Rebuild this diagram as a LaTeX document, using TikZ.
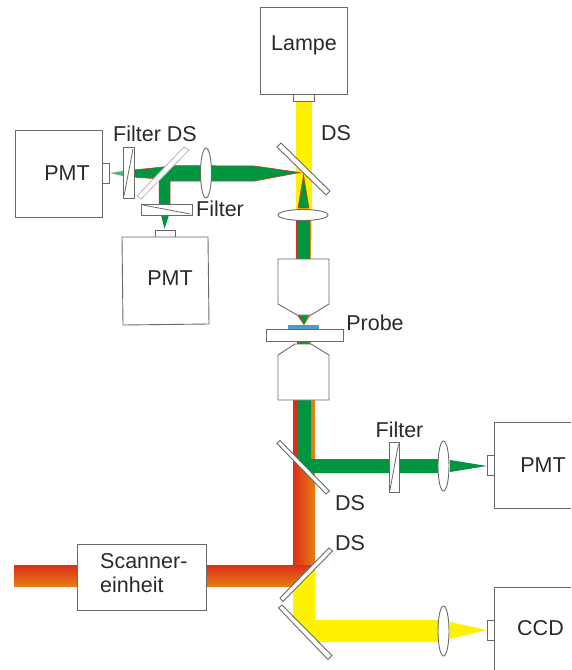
\documentclass[tikz,border=0pt]{standalone}
\usepackage{fontspec}
\setmainfont{Liberation Sans}
\definecolor{beamgreen}{HTML}{009640}
\definecolor{beamyellow}{HTML}{FFF200}
\definecolor{beamred}{HTML}{DC2E1A}
\definecolor{beamorange}{HTML}{E87D12}
\definecolor{part}{HTML}{6A6A6A}
\definecolor{ink}{HTML}{2A2A2A}
\definecolor{sampleblue}{HTML}{4F9BC8}
\tikzset{
  partbox/.style={draw=part,line width=0.9pt,fill=white,line join=miter},
  paleglass/.style={draw=black!28,line width=0.8pt,fill=white},
  greenbeam/.style={fill=beamgreen},
  yellowbeam/.style={fill=beamyellow},
  edgedbeam/.style={fill=beamgreen,draw=beamred,line width=0.5pt},
  label/.style={font=\fontsize{21.5}{24}\selectfont,text=ink,inner sep=0pt}
}
\begin{document}
\begin{tikzpicture}[x=1pt,y=-1pt]
\useasboundingbox (0,0) rectangle (571,670);
\fill[white] (0,0) rectangle (571,670);
% ---- yellow lamp beam
\fill[yellowbeam] (296,101) rectangle (312,240);
% ---- upper beams
\path[edgedbeam] (133,170) -- (177,165.5) -- (255,166) -- (300,172.5) -- (255,181) -- (170,181) -- (170,205) -- (159,205) -- (159,179) -- (133,177) -- cycle;
\fill[beamgreen!70] (123,171) -- (110,173) -- (123,176) -- cycle;
\fill[greenbeam] (161,215) -- (169,215) -- (164.5,229) -- cycle;
\path[edgedbeam] (303.5,175) -- (309,208) -- (298,208) -- cycle;
\fill[beamred] (296,220) rectangle (304,260);
\fill[beamorange] (304,220) rectangle (311,260);
\fill[greenbeam] (297.5,220) rectangle (309.5,260);
% ---- focus at the sample
\fill[beamred] (297,315) -- (304,315) -- (304,325) -- cycle;
\fill[beamorange] (304,315) -- (311,315) -- (304,325) -- cycle;
\fill[greenbeam] (299.5,315) -- (308.5,315) -- (304,325) -- cycle;
\fill[beamred] (297,341) rectangle (304,346);
\fill[beamorange] (304,341) rectangle (311,346);
\fill[greenbeam] (299.5,341) rectangle (308.5,346);
% ---- lower beams
\fill[beamred] (293,398) rectangle (299,462);
\fill[beamorange] (309,398) rectangle (315,478);
\path[left color=beamred,right color=beamorange] (293,455) -- (315,476) -- (315,568) -- (293,590) -- cycle;
\path[top color=beamred,bottom color=beamorange] (14,565) -- (317,565) -- (295,587) -- (14,587) -- cycle;
\fill[greenbeam] (297.5,398) -- (311,398) -- (311,459) -- (439,459) -- (439,473) -- (306,473) -- (297.5,456) -- cycle;
\fill[greenbeam] (450,460) -- (487,466) -- (450,472) -- cycle;
\fill[yellowbeam] (293,589) -- (315,567) -- (315,620) -- (439,620) -- (439,642) -- (316,642) -- (293,620) -- cycle;
\fill[yellowbeam] (450,622) -- (487,630) -- (450,639) -- cycle;
% ---- sample and slide
\fill[sampleblue] (288,325) rectangle (319,329);
\draw[partbox] (266,329) rectangle (343,341);
% ---- objectives
\draw[partbox] (278,259) -- (329,259) -- (329,304) -- (311,315) -- (297,315) -- (278,304) -- cycle;
\draw[partbox] (295,344) -- (311,344) -- (329,355) -- (329,400) -- (278,400) -- (278,355) -- cycle;
% ---- mirrors
\draw[partbox] (277,147) -- (281,143) -- (330,191) -- (326,195) -- cycle;
\draw[paleglass] (184,147) -- (189,150) -- (141,199) -- (137,196) -- cycle;
\draw[partbox] (277,443.5) -- (280,440.5) -- (329.5,491) -- (326,494) -- cycle;
\draw[partbox] (329,548) -- (332.5,551) -- (283,601.5) -- (280,598) -- cycle;
\draw[partbox] (282,605) -- (278.5,608) -- (328,659.5) -- (332,655.5) -- cycle;
% ---- lenses
\draw[partbox] (206,173) ellipse [x radius=5.5,y radius=25];
\draw[partbox] (303,215) ellipse [x radius=25,y radius=5.5];
\draw[partbox] (443.5,466) ellipse [x radius=5.5,y radius=25];
\draw[partbox] (443.5,631) ellipse [x radius=5.5,y radius=25];
% ---- filters
\draw[partbox] (123,147) rectangle (134,198);
\draw[part,line width=0.8pt] (133,149) -- (124,196);
\draw[partbox] (141,204) rectangle (192,215);
\draw[part,line width=0.8pt] (143,205) -- (190,214);
\draw[partbox] (389,442) rectangle (399.5,492);
\draw[part,line width=0.8pt] (398.5,444) -- (390,490);
% ---- apertures
\draw[partbox] (293,94) rectangle (314,101);
\draw[partbox] (102,163) rectangle (109,183);
\draw[partbox] (155,230) rectangle (175,237);
\draw[partbox] (487,455) rectangle (494,475);
\draw[partbox] (487,620) rectangle (494,640);
% ---- boxes with their texts
\draw[partbox] (260,7) rectangle (347,94);
\draw[partbox] (15,130) rectangle (102,217);
\draw[partbox] (122,237) -- (208,237) -- (209,324) -- (123,325) -- cycle;
\draw[part,line width=0.9pt] (571,422) -- (494,422) -- (494,508) -- (571,508);
\draw[part,line width=0.9pt] (494,670) -- (494,587) -- (571,587);
\draw[partbox] (77,544) rectangle (206,610);
\node[label] (lampe) at (304,45) {Lampe};
\node[label] (pmtleft) at (67,173) {PMT};
\node[label] (pmtlow) at (170,278) {PMT};
\node[label] (pmtright) at (543,465) {PMT};
\node[label] (ccd) at (540.5,628) {CCD};
\node[label,anchor=west] (scan1) at (100,561) {Scanner-};
\node[label,anchor=west] (scan2) at (100,585) {einheit};
\node[label] (dstop) at (336,133) {DS};
\node[label] (filterds) at (155,134) {Filter DS};
\node[label] (filterlow) at (220,209) {Filter};
\node[label] (probe) at (375,323) {Probe};
\node[label] (filterright) at (399.5,430) {Filter};
\node[label] (dsa) at (350,503) {DS};
\node[label] (dsb) at (350,543) {DS};
\end{tikzpicture}
\end{document}
